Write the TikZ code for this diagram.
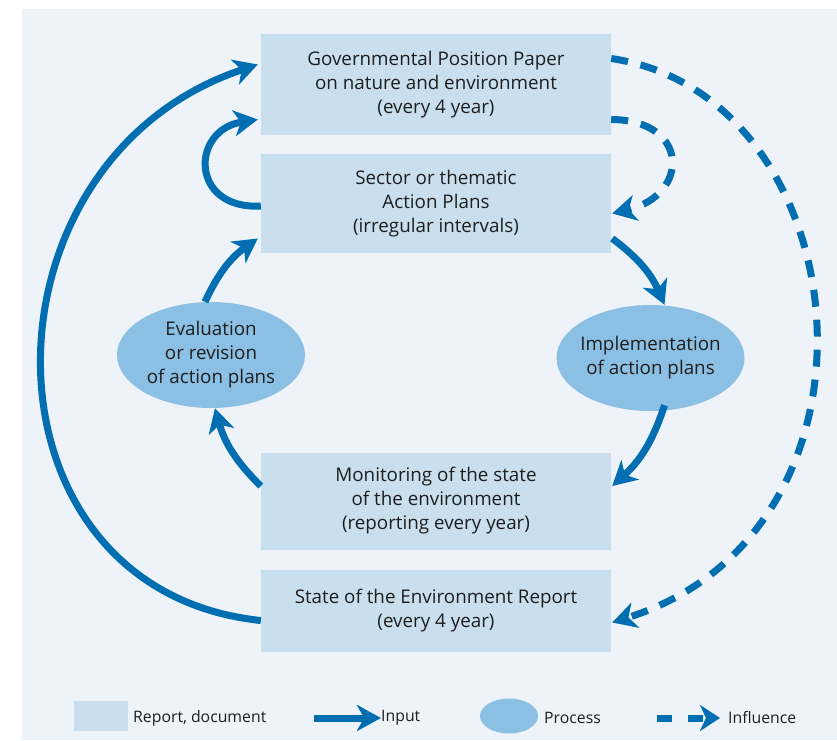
\documentclass[tikz,border=0pt]{standalone}
\usepackage{fontspec}
\setmainfont{Open Sans}
\usetikzlibrary{shapes,arrows.meta,positioning,calc}
\definecolor{flowblue}{RGB}{0,110,176}
\definecolor{docblue}{RGB}{201,223,238}
\definecolor{procblue}{RGB}{139,192,228}
\definecolor{panelblue}{RGB}{237,243,249}
\definecolor{inkgray}{RGB}{30,30,30}

\begin{document}
\begin{tikzpicture}[x=1pt,y=-1pt,
    doc/.style={fill=docblue,minimum width=350pt,align=center,text=inkgray,font=\fontsize{18.8}{24}\selectfont},
    proc/.style={ellipse,fill=procblue,minimum width=188pt,minimum height=106pt,inner sep=0pt,align=center,text=inkgray,font=\fontsize{18.8}{24}\selectfont},
    flow/.style={flowblue,line width=7pt,-{Stealth[length=24pt,width=26pt,inset=7pt]}},
    infl/.style={flow,dash pattern=on 17pt off 13pt},
    legtext/.style={anchor=west,text=inkgray,inner sep=0pt,font=\fontsize{15.8}{18}\selectfont}]
    \useasboundingbox (0,0) rectangle (837,740);
    \fill[panelblue] (22,9) rectangle (837,740);

    % Reports and documents
    \node[doc,minimum height=101pt] (gpp) at (436,84.5) {Governmental Position Paper\\on nature and environment\\(every 4 year)};
    \node[doc,minimum height=99pt] (sap) at (436,203.5) {Sector or thematic\\Action Plans\\(irregular intervals)};
    \node[doc,minimum height=97pt] (mon) at (436,501) {Monitoring of the state\\of the environment\\(reporting every year)};
    \node[doc,minimum height=82pt] (soe) at (436,610.5) {State of the Environment Report\\(every 4 year)};

    % Processes
    \node[proc] (evl) at (211,355) {Evaluation\\or revision\\of action plans};
    \node[proc,inner xsep=-5pt] (imp) at (650.5,358) {Implementation\\of action plans};

    % Input
    \draw[flow] ($(soe.west)+(0,10)$) .. controls (-30,590) and (-30,160) .. ($(gpp.west)+(-3,-20)$);
    \draw[flow] ($(sap.west)+(0,2.5)$) .. controls (190,210) and (190,130) .. ($(gpp.west)+(-3,35)$);
    \draw[flow] ($(evl.north)+(-6,0)$) to[bend left=15] ($(sap.west)+(-3,35)$);
    \draw[flow] ($(mon.west)+(0,-15)$) to[bend left=15] ($(evl.south)+(4,0)$);
    \draw[flow] ($(sap.east)+(1,35)$) to[bend left=15] ($(imp.north)+(14,0)$);
    \draw[flow] ($(imp.south)+(14,-6)$) to[bend left=15] ($(mon.east)+(1,-15)$);

    % Influence
    \draw[infl] ($(gpp.east)+(0,-26)$) .. controls (860,95) and (905,530) .. ($(soe.east)+(1,12)$);
    \draw[infl] ($(gpp.east)+(0,35)$) .. controls (690,120) and (690,195) .. ($(sap.east)+(1,10)$);

    % Legend
    \node[fill=docblue,minimum width=54pt,minimum height=30pt,inner sep=0pt] (legdoc) at (101,716) {};
    \node[legtext] (legdoctext) at (133,718) {Report, document};
    \coordinate (legina) at (314,718);
    \node[legtext] (legintext) at (381,718) {Input};
    \draw[flow] (legina) -- (legintext.west);
    \node[ellipse,fill=procblue,minimum width=58pt,minimum height=35pt,inner sep=0pt] (legproc) at (509,716) {};
    \node[legtext] (legproctext) at (544,718) {Process};
    \coordinate (leginfa) at (657,718);
    \node[legtext] (leginftext) at (728,718) {Influence};
    \draw[flow,dash pattern=on 15pt off 16pt,-{Stealth[length=20pt,width=26pt,inset=6pt]}] (leginfa) -- ($(leginftext.west)+(-8,0)$);
\end{tikzpicture}
\end{document}
